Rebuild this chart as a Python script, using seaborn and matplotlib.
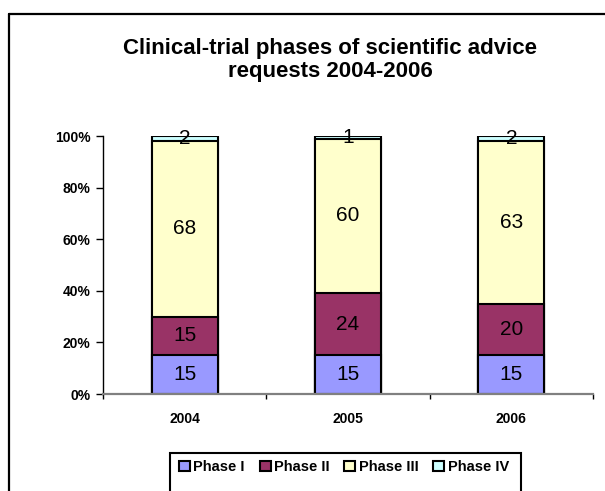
import numpy as np
import pandas as pd
import matplotlib
matplotlib.use("Agg")
import matplotlib.pyplot as plt
from matplotlib.lines import Line2D
from matplotlib.patches import Patch, Rectangle
import seaborn as sns

years = ["2004", "2005", "2006"]
phases = ["Phase I", "Phase II", "Phase III", "Phase IV"]
phase1 = [15, 15, 15]
phase2 = [15, 24, 20]
phase3 = [68, 60, 63]
phase4 = [2, 1, 2]
colors = ["#9999FF", "#993366", "#FFFFCC", "#CCFFFF"]
ytick_labels = ["0%", "20%", "40%", "60%", "80%", "100%"]

sns.set_theme(style="white")
plt.rcParams["font.family"] = ["Liberation Sans", "DejaVu Sans"]
plt.rcParams["text.color"] = "black"
plt.rcParams["xtick.color"] = "black"
plt.rcParams["ytick.color"] = "black"
plt.rcParams["xtick.labelcolor"] = "black"
plt.rcParams["ytick.labelcolor"] = "black"

series = [phase1, phase2, phase3, phase4]
vals = np.array(series, dtype=float)
totals = vals.sum(axis=0)
pct = vals / totals * 100
cum = np.cumsum(pct, axis=0)

W, H = 605, 491
fig = plt.figure(figsize=(6.05, 4.91), dpi=100)
ax = fig.add_axes([103 / W, 1 - 394 / H, 490 / W, 258 / H])

# stacked bars: tallest cumulative first
for i in range(len(phases) - 1, -1, -1):
    df = pd.DataFrame({"year": years, "value": cum[i]})
    sns.barplot(data=df, x="year", y="value", color=colors[i], width=0.405,
                edgecolor="black", linewidth=1.5, saturation=1, ax=ax,
                errorbar=None)

for j, y in enumerate(years):
    for i in range(len(phases)):
        bottom = cum[i][j] - pct[i][j]
        center = bottom + pct[i][j] / 2
        ax.text(j, center, f"{series[i][j]}", ha="center", va="center",
                fontsize=15, color="black")

ax.set_ylim(0, 100)
ax.set_xlim(-0.5, 2.5)
ax.set_yticks([0, 20, 40, 60, 80, 100])
ax.set_yticklabels(ytick_labels, fontsize=10, fontweight="bold", color="black")
ax.set_xticks(range(len(years)))
ax.set_xticklabels(years, fontsize=10, fontweight="bold", color="black")
ax.set_xlabel("")
ax.set_ylabel("")
ax.tick_params(axis="y", which="major", direction="out", length=5, width=1,
               color="black", left=True, pad=4)
ax.tick_params(axis="x", which="major", length=0, pad=13)
ax.set_xticks([-0.5, 0.5, 1.5, 2.5], minor=True)
ax.tick_params(axis="x", which="minor", direction="out", length=3.5, width=1,
               color="black", bottom=True)
for s in ["top", "right"]:
    ax.spines[s].set_visible(False)
ax.spines["left"].set_color("black")
ax.spines["left"].set_linewidth(1)
ax.spines["bottom"].set_color("#808080")
ax.spines["bottom"].set_linewidth(1.6)
ax.grid(False)

fig.text(330 / W, 1 - 60 / H, "Clinical-trial phases of scientific advice\nrequests 2004-2006",
         ha="center", va="center", fontsize=16, fontweight="bold",
         linespacing=1.1, color="black")

handles = [Patch(facecolor=c, edgecolor="black", linewidth=1.5) for c in colors]
leg = fig.legend(handles, phases, loc="center", bbox_to_anchor=(344 / W, 1 - 467 / H),
                 ncol=4, frameon=False, prop={"weight": "bold", "size": 10.5},
                 handlelength=0.75, handleheight=0.75, handletextpad=0.25,
                 columnspacing=1.0, borderpad=0.3,
                 bbox_transform=fig.transFigure)
for t in leg.get_texts():
    t.set_color("black")

fig.add_artist(Rectangle((170 / W, -0.05), 351 / W, 0.05 + 1 - 453 / H,
                         transform=fig.transFigure, facecolor="none",
                         edgecolor="black", linewidth=1.5))

fig.add_artist(Line2D([9 / W, 1.0], [1 - 14 / H, 1 - 14 / H],
                      transform=fig.transFigure, color="black", linewidth=1.6))
fig.add_artist(Line2D([9 / W, 9 / W], [0, 1 - 14 / H],
                      transform=fig.transFigure, color="black", linewidth=1.6))

fig.savefig("out.png", dpi=100)
